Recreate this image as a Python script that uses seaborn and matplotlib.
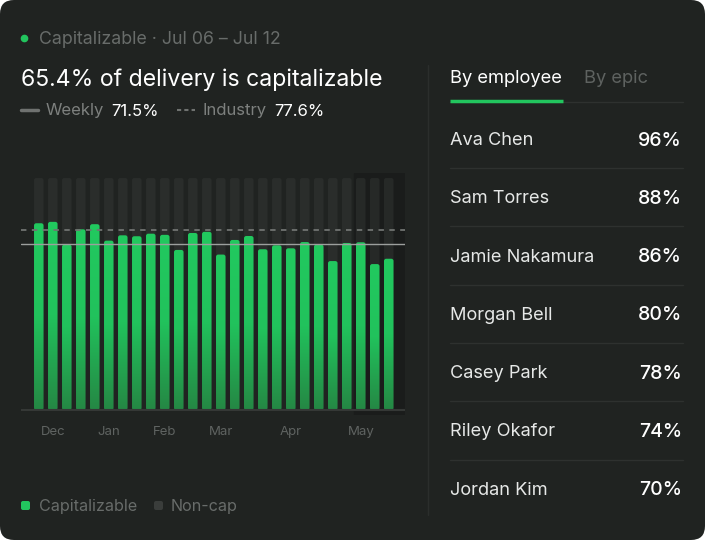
import numpy as np
import pandas as pd
import matplotlib
matplotlib.use("Agg")
import matplotlib.pyplot as plt
from matplotlib.patches import FancyBboxPatch
from matplotlib.colors import LinearSegmentedColormap
import seaborn as sns

# weekly share of capitalizable delivery (%), 26 weeks
weeks = [f"W{i:02d}" for i in range(1, 27)]
cap_pct = [80.5, 81.1, 71.3, 77.9, 80.1, 73.0, 75.3, 74.9, 76.0, 75.5, 69.0, 76.3, 76.8,
           67.0, 73.3, 75.0, 69.3, 71.0, 69.7, 72.4, 71.3, 64.2, 72.0, 72.3, 62.9, 65.2]
month_labels = ["Dec", "Jan", "Feb", "Mar", "Apr", "May"]
month_pos = [1, 5, 9, 13, 18, 23]
weekly_avg = 71.5
industry = 77.6

employees = ["Ava Chen", "Sam Torres", "Jamie Nakamura", "Morgan Bell",
             "Casey Park", "Riley Okafor", "Jordan Kim"]
emp_pct = [96, 88, 86, 80, 78, 74, 70]

BG = "#202321"
GREEN = "#22c55e"
W, H = 705, 540

sns.set_theme(style="dark")
plt.rcParams["font.family"] = ["Inter", "DejaVu Sans"]

fig = plt.figure(figsize=(W / 100, H / 100), dpi=100)
fig.patch.set_facecolor("white")

# rounded card
card = fig.add_axes([0, 0, 1, 1])
card.set_xlim(0, W)
card.set_ylim(H, 0)
card.axis("off")
card.add_patch(FancyBboxPatch((0, 0), W, H, boxstyle="round,pad=0,rounding_size=14",
                              fc=BG, ec="none"))


def fx(px):
    return px / W


def fy(py):
    return 1 - py / H


# header
card.plot([24], [38], "o", color=GREEN, ms=4.5)
card.text(39, 40, "Capitalizable · Jul 06 – Jul 12", color="#686c6a", fontsize=12.8, va="center")
card.text(21, 79.5, "65.4% of delivery is capitalizable", color="white", fontsize=16.6, va="center")
card.plot([21, 38], [110, 110], color="#6f7270", lw=2.5)
card.text(46, 111, "Weekly", color="#7d807e", fontsize=12, va="center")
card.text(111, 111, f"{weekly_avg}%", color="white", fontsize=12, va="center")
card.plot([177, 195], [110, 110], color="#6f7270", lw=1.5, ls=(0, (2, 1.5)))
card.text(202, 111, "Industry", color="#7d807e", fontsize=12, va="center")
card.text(274, 111, f"{industry}%", color="white", fontsize=12, va="center")

# bottom legend
card.add_patch(FancyBboxPatch((21, 501), 9, 9, boxstyle="round,pad=0,rounding_size=2",
                              fc=GREEN, ec="none"))
card.text(39, 506.5, "Capitalizable", color="#686c6a", fontsize=11.6, va="center")
card.add_patch(FancyBboxPatch((154, 501), 9, 9, boxstyle="round,pad=0,rounding_size=2",
                              fc="#3a3d3b", ec="none"))
card.text(171, 506.5, "Non-cap", color="#686c6a", fontsize=11.6, va="center")

# right panel
card.plot([428, 428], [65, 515], color="#2b2e2c", lw=1)
card.text(450, 78.5, "By employee", color="white", fontsize=13.2, va="center")
card.text(584, 78.5, "By epic", color="#5e6260", fontsize=13.2, va="center")
card.plot([450, 683], [102, 102], color="#2e312f", lw=1)
card.plot([450, 563], [101, 101], color=GREEN, lw=2.5, solid_capstyle="butt")
row_y = [139 + 58.3 * i for i in range(len(employees))]
for i, (name, val) in enumerate(zip(employees, emp_pct)):
    card.text(450, row_y[i] + 1.5, name, color="#e6e8e7", fontsize=13.1, va="center")
    card.text(682, row_y[i] + 1.5, f"{val}%", color="white", fontsize=14, va="center",
              ha="right", fontweight="medium")
    if i < len(employees) - 1:
        sy = row_y[i] + 29
        card.plot([450, 683], [sy, sy], color="#2e312f", lw=1)

# bar chart
ax = fig.add_axes([fx(21), fy(415), 384 / W, 242 / H])
ax.set_facecolor("none")
df = pd.DataFrame({"week": weeks, "cap": cap_pct, "total": [100] * len(weeks)})

sns.barplot(data=df, x="week", y="total", color="#2a2d2b", width=0.68, saturation=1, ax=ax)
n_bg = len(ax.patches)
sns.barplot(data=df, x="week", y="cap", color=GREEN, width=0.68, saturation=1, ax=ax)

xpx = 14.0
ypx = 2.32
aspect = xpx / ypx
cmap = LinearSegmentedColormap.from_list("g", ["#258744", "#21c25c", "#22c95f"])
grad = np.linspace(0, 1, 256).reshape(-1, 1)

patches = list(ax.patches)
for k, p in enumerate(patches):
    x0, y0, w, h = p.get_x(), p.get_y(), p.get_width(), p.get_height()
    p.remove()
    is_bg = k < n_bg
    fc = "#2a2d2b" if is_bg else "none"
    if is_bg and x0 > 22.5:
        fc = "#262927"
    r = FancyBboxPatch((x0, y0), w, h, boxstyle="round,pad=0,rounding_size=0.16",
                       mutation_aspect=aspect, fc=fc, ec="none", zorder=1 if is_bg else 2)
    ax.add_patch(r)
    if not is_bg:
        im = ax.imshow(grad, cmap=cmap, aspect="auto", origin="lower",
                       extent=(x0, x0 + w, y0, y0 + h), zorder=2, vmin=0, vmax=1)
        im.set_clip_path(r)

ax.set_xlim(-1.27, 26.16)
ax.set_ylim(-2.16, 102.16)

# highlight current period
ax.axvspan(22.5, 26.16, color="#1a1c1b", zorder=0.5)

ax.axhline(0, color="#353836", lw=1.5, zorder=3)
ax.axhline(weekly_avg, color="#9c9f9d", lw=1, zorder=3)
ax.axhline(industry, color="#707371", lw=1.3, ls=(0, (3, 3)), zorder=3)

ax.set_xticks(month_pos)
ax.set_xticklabels(month_labels, color="#5f6361", fontsize=9.5)
ax.tick_params(axis="x", length=0, pad=8)
ax.set_yticks([])
ax.set_xlabel("")
ax.set_ylabel("")
ax.grid(False)
for s in ax.spines.values():
    s.set_visible(False)

fig.savefig("out.png", dpi=100, facecolor="white")
